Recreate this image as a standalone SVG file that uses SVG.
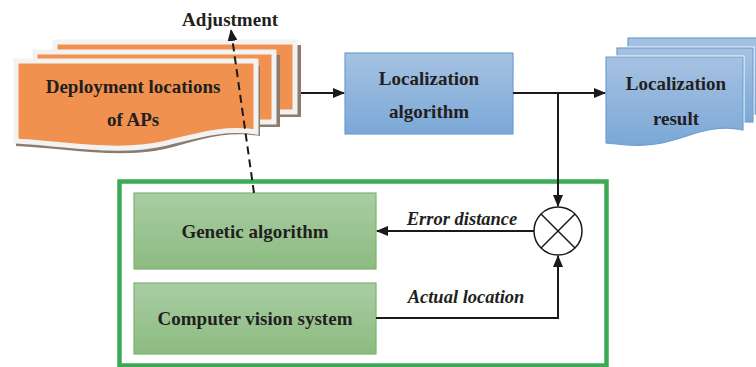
<svg xmlns="http://www.w3.org/2000/svg" width="756" height="367" viewBox="0 0 756 367">
<defs>
<linearGradient id="gBlue" x1="0" y1="0" x2="0" y2="1"><stop offset="0" stop-color="#a6c2e2"/><stop offset="1" stop-color="#7ba8d7"/></linearGradient>
<linearGradient id="gGreen" x1="0" y1="0" x2="0" y2="1"><stop offset="0" stop-color="#a9cda3"/><stop offset="1" stop-color="#8cbb80"/></linearGradient>
<marker id="ah" markerWidth="12" markerHeight="10" refX="11" refY="5" orient="auto" markerUnits="userSpaceOnUse"><path d="M0,0 L12,5 L0,10 Z" fill="#1a1a1a"/></marker>
<style>
.t{font-family:'Liberation Serif','Times New Roman','DejaVu Serif',serif;font-weight:bold;font-size:19px;fill:#231f20;text-anchor:middle}
.ti{font-family:'Liberation Serif','Times New Roman','DejaVu Serif',serif;font-weight:bold;font-style:italic;font-size:18.5px;fill:#231f20;text-anchor:middle}
.ln{fill:none;stroke:#1a1a1a;stroke-width:2}
.or{fill:#f0914f;stroke:#f2f2f2;stroke-width:5}
.sh{fill:#8c7b6e}
.bl{fill:url(#gBlue);stroke:#6f9dd2;stroke-width:1.2}
.gr{fill:url(#gGreen);stroke:#7cb26f;stroke-width:1.2}
</style>
</defs>

<g id="frame">
<rect x="119.5" y="181.5" width="487" height="184" fill="#fff" stroke="#3aaa55" stroke-width="4.5"/>
</g>

<g id="deployment">
<rect class="sh" x="58" y="45" width="243" height="72"/>
<rect class="or" x="55" y="42" width="240" height="70"/>
<rect class="sh" x="38" y="55" width="242" height="72"/>
<rect class="or" x="35" y="52" width="239" height="70"/>
<path class="sh" d="M16,66 H260 V136 C225,130 200,140 165,149 C120,159 60,148 16,146 Z"/>
<path class="or" d="M16,61 H256 V132 C222,127 197,136 162,144 C117,154 57,143 16,141 Z"/>
<text class="t" x="133" y="93">Deployment locations</text>
<text class="t" x="133" y="126">of APs</text>
</g>

<g id="adjustment">
<text class="t" x="230" y="26">Adjustment</text>
</g>

<g id="localization">
<rect class="bl" x="345" y="53" width="168" height="81"/>
<text class="t" x="429" y="85">Localization</text>
<text class="t" x="429" y="118">algorithm</text>
</g>

<g id="result">
<rect x="628" y="38" width="140" height="76" fill="url(#gBlue)" stroke="#fff" stroke-width="3"/>
<rect class="bl" x="628" y="38" width="140" height="76"/>
<rect x="617" y="48" width="136" height="74" fill="url(#gBlue)" stroke="#fff" stroke-width="3"/>
<rect class="bl" x="617" y="48" width="136" height="74"/>
<path d="M606,57 H743 V130 C715,124 695,134 670,141 C645,148 625,145 606,143 Z" fill="url(#gBlue)" stroke="#fff" stroke-width="3"/>
<path class="bl" d="M606,57 H743 V130 C715,124 695,134 670,141 C645,148 625,145 606,143 Z"/>
<text class="t" x="676" y="90">Localization</text>
<text class="t" x="676" y="125">result</text>
</g>

<g id="genetic">
<rect class="gr" x="134" y="193" width="242" height="76"/>
<text class="t" x="255" y="238">Genetic algorithm</text>
</g>

<g id="vision">
<rect class="gr" x="134" y="283" width="242" height="71"/>
<text class="t" x="255" y="325">Computer vision system</text>
</g>

<g id="comparator">
<circle cx="558" cy="231" r="24" fill="#fff" stroke="#1a1a1a" stroke-width="1.5"/>
<path d="M541,214 L575,248 M575,214 L541,248" stroke="#1a1a1a" stroke-width="1.5"/>
</g>

<g id="labels">
<text class="ti" x="462" y="225">Error distance</text>
<text class="ti" x="466" y="303">Actual location</text>
</g>

<g id="connectors">
<path class="ln" d="M301,93 H344" marker-end="url(#ah)"/>
<path class="ln" d="M513,93 H605" marker-end="url(#ah)"/>
<path class="ln" d="M558,93 V206" marker-end="url(#ah)"/>
<path class="ln" d="M534,231 H377" marker-end="url(#ah)"/>
<path class="ln" d="M376,318 H558 V256" marker-end="url(#ah)"/>
<path class="ln" d="M254,193 L231,30" stroke-dasharray="8,5" marker-end="url(#ah)"/>
</g>
</svg>
